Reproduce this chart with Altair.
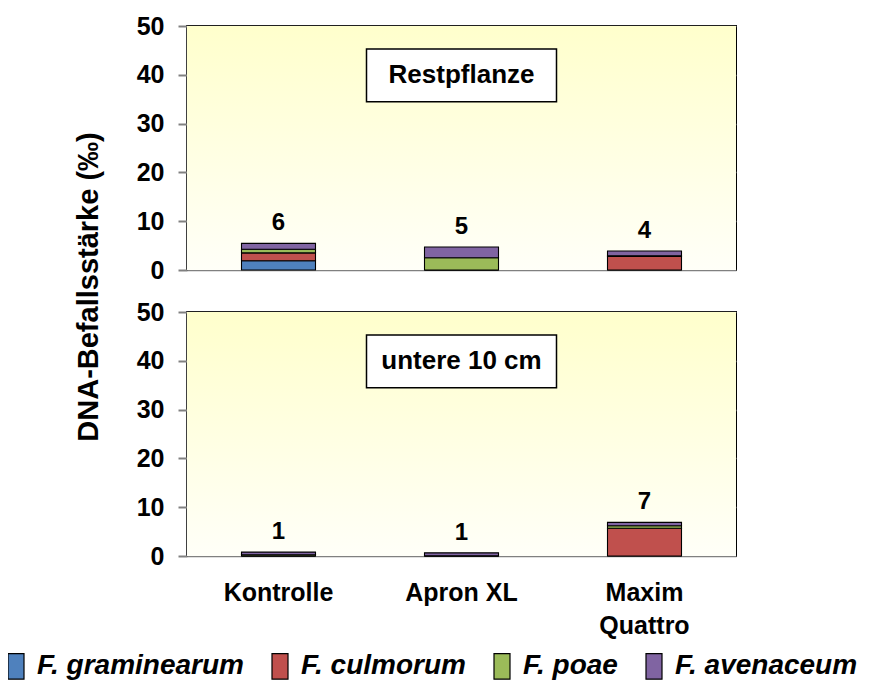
import altair as alt
import pandas as pd

FONT = "Liberation Sans"

categories = ["Kontrolle", "Apron XL", "Maxim Quattro"]
species = ["F. graminearum", "F. culmorum", "F. poae", "F. avenaceum"]
colors = ["#4F81BD", "#C0504D", "#9BBB59", "#8064A2"]

# Panel 1: Restpflanze
rest_graminearum = [1.9, 0.0, 0.0]
rest_culmorum = [1.6, 0.0, 2.8]
rest_poae = [0.75, 2.5, 0.1]
rest_avenaceum = [1.2, 2.2, 1.0]
rest_labels = ["6", "5", "4"]

# Panel 2: untere 10 cm
lower_graminearum = [0.0, 0.0, 0.0]
lower_culmorum = [0.0, 0.0, 5.7]
lower_poae = [0.25, 0.05, 0.5]
lower_avenaceum = [0.55, 0.6, 0.7]
lower_labels = ["1", "1", "7"]

panel_titles = ["Restpflanze", "untere 10 cm"]
box_low, box_mid, box_high = 34.5, 40, 45.3
y_ticks = [0, 10, 20, 30, 40, 50]

W, H = 549, 244

bg_gradient = alt.LinearGradient(
    gradient="linear", x1=0, y1=0, x2=0, y2=1,
    stops=[alt.GradientStop(offset=0, color="#FFFFCC"),
           alt.GradientStop(offset=1, color="#FFFFF8")])


def panel(vals, labels, title, bottom, first):
    rows = []
    for si, (sp, arr) in enumerate(zip(species, vals)):
        for ci, cat in enumerate(categories):
            rows.append({"cat": cat, "species": sp, "value": arr[ci], "order": si})
    df = pd.DataFrame(rows)
    tot = pd.DataFrame({
        "cat": categories,
        "total": [sum(a[i] for a in vals) for i in range(len(categories))],
        "label": labels,
    })
    box = pd.DataFrame({"cat": [categories[1]], "y": [box_low], "y2": [box_high],
                        "yc": [box_mid], "text": [title]})

    if bottom:
        xaxis = alt.Axis(title=None, labelFontSize=25, labelFontWeight="bold", labelFont=FONT,
                         labelColor="black", ticks=False, domain=False, labelPadding=24,
                         labelAngle=0, labelLineHeight=33,
                         labelExpr="datum.value == 'Maxim Quattro' ? ['Maxim', 'Quattro'] : datum.value")
    else:
        xaxis = alt.Axis(title=None, labels=False, ticks=False, domain=False)

    yaxis_kw = dict(values=y_ticks, grid=True, gridColor="#808080", gridWidth=1.5,
                    domainColor="#808080", domainWidth=2, tickColor="#808080", tickSize=9,
                    tickWidth=2, labelFontSize=25, labelFontWeight="bold", labelFont=FONT,
                    labelColor="black", labelPadding=14)
    if first:
        yaxis = alt.Axis(title="DNA-Befallsstärke (‰)", titleX=-90, titleY=260.5, titleAngle=-90,
                         titleAlign="center", titleBaseline="alphabetic", titleFontSize=29,
                         titleFontWeight="bold", titleFont=FONT, titleColor="black", **yaxis_kw)
    else:
        yaxis = alt.Axis(title=None, **yaxis_kw)

    x = alt.X("cat:N", sort=categories, scale=alt.Scale(paddingInner=0, paddingOuter=0), axis=xaxis)
    yscale = alt.Scale(domain=[0, 50], nice=False)

    bg = alt.Chart(pd.DataFrame({"a": [0]})).mark_rect(color=bg_gradient).encode(
        x=alt.value(0), x2=alt.value(W), y=alt.value(0), y2=alt.value(H))
    bars = alt.Chart(df).mark_bar(size=74, stroke="black", strokeWidth=1.1).encode(
        x=x,
        y=alt.Y("value:Q", stack="zero", scale=yscale, axis=yaxis),
        color=alt.Color("species:N", scale=alt.Scale(domain=species, range=colors),
                        legend=alt.Legend(title=None)),
        order=alt.Order("order:Q"),
    )
    text = alt.Chart(tot).mark_text(dy=-8, baseline="bottom", fontSize=24, fontWeight="bold",
                                    font=FONT, color="black").encode(
        x=alt.X("cat:N", sort=categories), y=alt.Y("total:Q"), text="label:N")
    rect = alt.Chart(box).mark_rect(width=190, fill="white", stroke="black", strokeWidth=1.5).encode(
        x=alt.X("cat:N", sort=categories), y=alt.Y("y:Q"), y2="y2:Q")
    btxt = alt.Chart(box).mark_text(fontSize=26, fontWeight="bold", font=FONT, color="black",
                                    baseline="middle").encode(
        x=alt.X("cat:N", sort=categories), y=alt.Y("yc:Q"), text="text:N")
    return alt.layer(bg, bars, text, rect, btxt).properties(width=W, height=H)


top = panel([rest_graminearum, rest_culmorum, rest_poae, rest_avenaceum], rest_labels,
            panel_titles[0], False, True)
bot = panel([lower_graminearum, lower_culmorum, lower_poae, lower_avenaceum], lower_labels,
            panel_titles[1], True, False)

chart = alt.vconcat(top, bot, spacing=42, bounds="flush").properties(
    padding={"left": 0, "top": 5, "right": 0, "bottom": 0}
).configure_view(
    stroke="black", strokeWidth=2,
).configure_legend(
    orient="none", legendX=-179, legendY=626, direction="horizontal", columns=4,
    symbolType="M-1,-1.6H1V1.6H-1Z", symbolSize=256, symbolStrokeColor="black",
    symbolStrokeWidth=1.2, symbolOffset=-6, labelFont=FONT, labelFontSize=28,
    labelFontWeight="bold", labelFontStyle="italic", labelColor="black",
    columnPadding=25, labelOffset=7, labelLimit=400,
)

chart.save("out.html", embed_options={"renderer": "svg", "actions": False})
